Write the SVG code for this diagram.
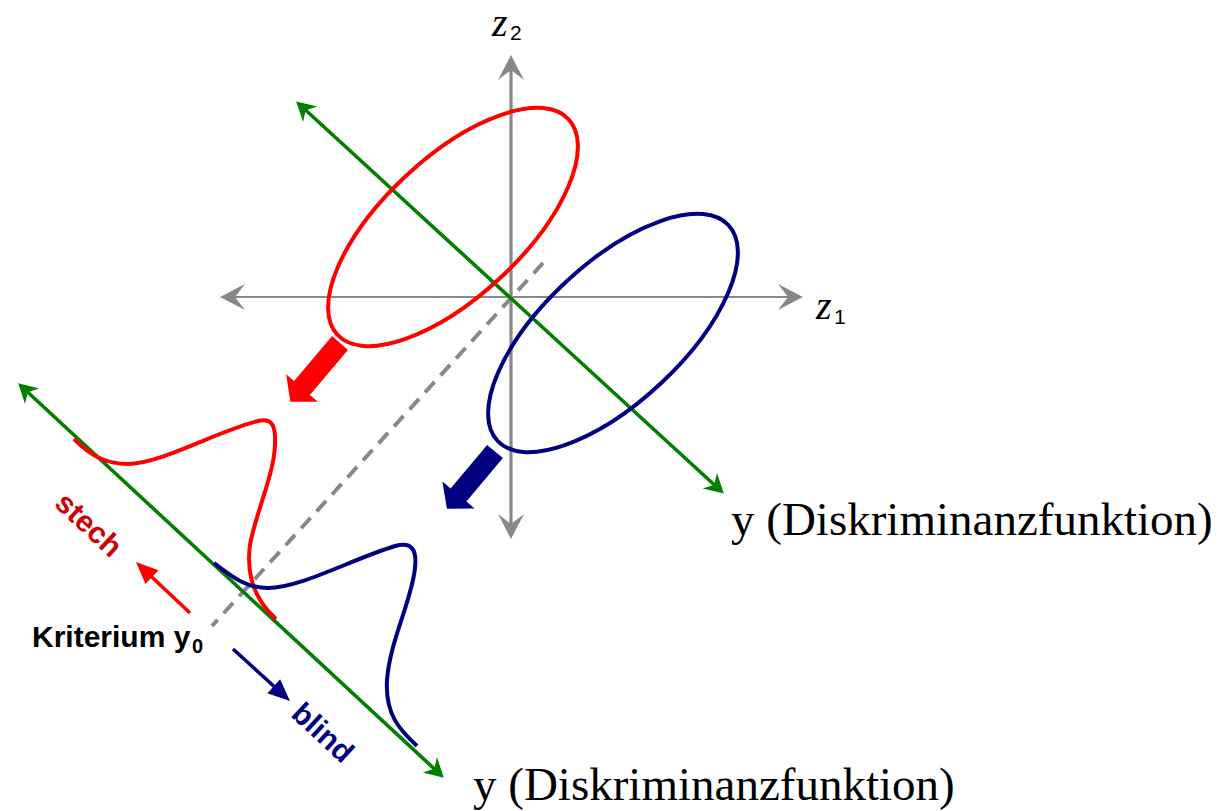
<svg xmlns="http://www.w3.org/2000/svg" width="1225" height="811" viewBox="0 0 1225 811">
<style>
.serif{font-family:"Liberation Serif","Times New Roman",serif;fill:#000}
.sans{font-family:"Liberation Sans",Arial,sans-serif}
.ell{fill:none;stroke-width:4}
.axis{fill:none;stroke:#888888}
.green{fill:none;stroke:#008000;stroke-width:3.6}
</style>
<defs>
<marker id="mGray" viewBox="-26 -14 27 28" markerUnits="userSpaceOnUse" markerWidth="27" markerHeight="28" refX="-15" refY="0" orient="auto-start-reverse">
<path d="M0,0 L-25,-13 L-15,0 L-25,13 Z" fill="#888888"/>
</marker>
<marker id="mGreen" viewBox="-20 -12 21 24" markerUnits="userSpaceOnUse" markerWidth="21" markerHeight="24" refX="-12" refY="0" orient="auto-start-reverse">
<path d="M0,0 L-19,-10.5 L-13,0 L-19,10.5 Z" fill="#008000"/>
</marker>
<marker id="mRed" viewBox="-23 -11 24 22" markerUnits="userSpaceOnUse" markerWidth="24" markerHeight="22" refX="-20" refY="0" orient="auto">
<path d="M0,0 L-22,-9.5 L-22,9.5 Z" fill="#FF0000"/>
</marker>
<marker id="mBlue" viewBox="-23 -11 24 22" markerUnits="userSpaceOnUse" markerWidth="24" markerHeight="22" refX="-20" refY="0" orient="auto">
<path d="M0,0 L-22,-9.5 L-22,9.5 Z" fill="#000080"/>
</marker>
</defs>

<g id="connectors">
<line id="axis-z1" class="axis" x1="235" y1="297" x2="788" y2="297" stroke="#b0b0b0" stroke-width="2" marker-start="url(#mGray)" marker-end="url(#mGray)"/>
<line id="axis-z2" class="axis" x1="511" y1="70" x2="511" y2="524" stroke-width="3.2" marker-start="url(#mGray)" marker-end="url(#mGray)"/>
<line id="dashed-criterion" x1="543" y1="263" x2="212" y2="626" stroke="#888888" stroke-width="4" stroke-dasharray="14 9"/>
<line id="green-upper" class="green" x1="305" y1="109.5" x2="715" y2="485.5" marker-start="url(#mGreen)" marker-end="url(#mGreen)"/>
<line id="green-lower" class="green" x1="27" y1="391.5" x2="435" y2="769.5" marker-start="url(#mGreen)" marker-end="url(#mGreen)"/>
<line id="arrow-stech" x1="190" y1="613" x2="150.5" y2="575.7" stroke="#FF0000" stroke-width="3.5" marker-end="url(#mRed)"/>
<line id="arrow-blind" x1="233" y1="649" x2="275.2" y2="687.5" stroke="#000080" stroke-width="3.5" marker-end="url(#mBlue)"/>
<polygon id="proj-red" points="332.1,336.1 294.1,381.1 286.1,374.3 290.4,401.7 317.9,401.7 309.9,394.9 347.9,349.9" fill="#FF0000"/>
<polygon id="proj-blue" points="487.1,444.9 450.6,488.4 442.4,481.5 446.9,508.8 474.6,508.5 466.4,501.6 502.9,458.1" fill="#000080"/>
</g>

<g id="ellipse-red">
<ellipse class="ell" cx="453" cy="227" rx="158" ry="69.5" transform="rotate(-43 453 227)" stroke="#FF0000"/>
</g>
<g id="ellipse-blue">
<ellipse class="ell" cx="613" cy="333" rx="158" ry="69.5" transform="rotate(-43 613 333)" stroke="#000080"/>
</g>

<g id="curve-red">
<path d="M74,439 C90,455 105,464 128,464 C160,464 215,432 258,421 C272,418 276,425 275,445 C274,475 255,515 250,545 C246,575 255,600 276,619" fill="none" stroke="#FF0000" stroke-width="4"/>
</g>
<g id="curve-blue">
<path d="M214,563 C230,575 245,588 268,588 C300,588 350,560 395,546 C412,541 417,550 415,568 C412,600 390,640 387,680 C385,715 400,730 417,746" fill="none" stroke="#000080" stroke-width="4"/>
</g>

<g id="label-z2">
<text class="serif" x="492" y="36" font-size="40" font-style="italic">z</text>
<text class="sans" x="510" y="40" font-size="21">2</text>
</g>
<g id="label-z1">
<text class="serif" x="816" y="319" font-size="40" font-style="italic">z</text>
<text class="sans" x="834" y="324" font-size="21">1</text>
</g>
<g id="label-y-upper">
<text class="serif" x="731" y="535" font-size="47">y (Diskriminanzfunktion)</text>
</g>
<g id="label-y-lower">
<text class="serif" x="473" y="800" font-size="47">y (Diskriminanzfunktion)</text>
</g>
<g id="label-stech">
<text class="sans" x="82" y="532" font-size="30" font-weight="bold" fill="#CC0000" text-anchor="middle" transform="rotate(42.8 82 532)">stech</text>
</g>
<g id="label-blind">
<text class="sans" x="316" y="740" font-size="30" font-weight="bold" fill="#000080" text-anchor="middle" transform="rotate(42.8 316 740)">blind</text>
</g>
<g id="label-kriterium">
<text class="sans" x="32" y="647" font-size="30" font-weight="bold" fill="#000">Kriterium y</text>
<text class="sans" x="192" y="653" font-size="20" font-weight="bold" fill="#000">0</text>
</g>
</svg>
